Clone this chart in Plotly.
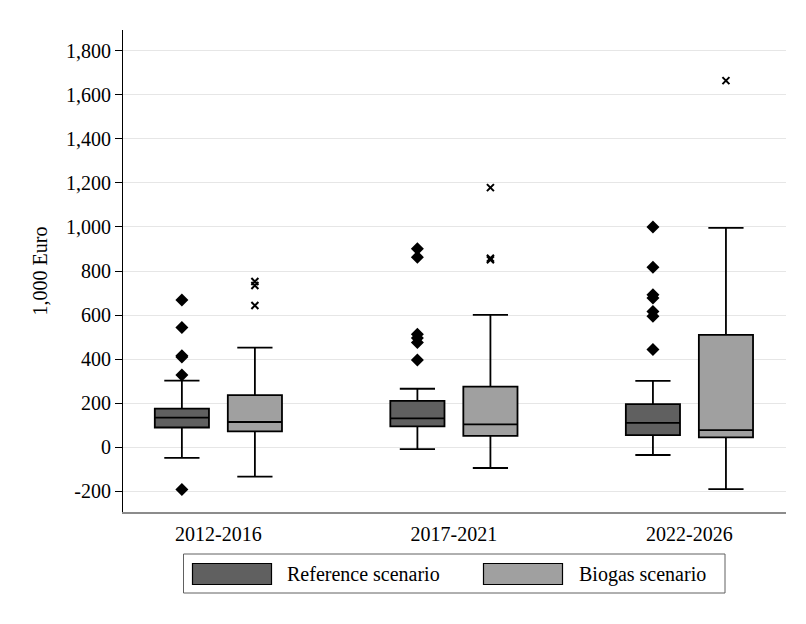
import plotly.graph_objects as go

# ---------------- data ----------------
periods = ["2012-2016", "2017-2021", "2022-2026"]

ref_q1 = [89, 94, 54]
ref_median = [134, 130, 110]
ref_q3 = [175, 210, 195]
ref_lower = [-49, -9, -36]
ref_upper = [302, 265, 301]
ref_outliers = [
    [668, 543, 415, 409, 328, -193],
    [901, 863, 513, 496, 475, 396],
    [1000, 817, 692, 677, 616, 594, 443],
]

bio_q1 = [71, 51, 44]
bio_median = [114, 103, 77]
bio_q3 = [236, 275, 510]
bio_lower = [-134, -95, -191]
bio_upper = [452, 601, 996]
bio_outliers = [
    [752, 734, 643],
    [1179, 858, 851],
    [1665],
]

ytick_vals = [-200, 0, 200, 400, 600, 800, 1000, 1200, 1400, 1600, 1800]
ytick_text = ["-200", "0", "200", "400", "600", "800", "1,000", "1,200",
              "1,400", "1,600", "1,800"]

series_names = ["Reference scenario", "Biogas scenario"]

# ---------------- styling ----------------
FONT = '"Liberation Serif", "Times New Roman", serif'
REF_COLOR = "#606060"
BIO_COLOR = "#a0a0a0"
OFFSET = 0.155
BOXW = 0.23

W, H = 806, 624
PAGE = 8  # browser default body margin
# desired plot area in page pixels
PL, PR, PT, PB = 123, 786, 30, 512
L, T = PL - PAGE, PT - PAGE
R, B = W - (PR - PAGE), H - (PB - PAGE)
PW, PH = PR - PL, PB - PT


def px_x(px):
    return (px - PL) / PW


def px_y(py):
    return (PB - py) / PH


centers = list(range(1, len(periods) + 1))
ref_pos = [c - OFFSET for c in centers]
bio_pos = [c + OFFSET for c in centers]

fig = go.Figure()

fig.add_trace(go.Box(
    x=ref_pos, q1=ref_q1, median=ref_median, q3=ref_q3,
    lowerfence=ref_lower, upperfence=ref_upper,
    width=BOXW, whiskerwidth=0.65, fillcolor=REF_COLOR,
    line=dict(color="black", width=1.8), boxpoints=False,
    name=series_names[0], showlegend=False, hoverinfo="skip",
))
fig.add_trace(go.Box(
    x=bio_pos, q1=bio_q1, median=bio_median, q3=bio_q3,
    lowerfence=bio_lower, upperfence=bio_upper,
    width=BOXW, whiskerwidth=0.65, fillcolor=BIO_COLOR,
    line=dict(color="black", width=1.8), boxpoints=False,
    name=series_names[1], showlegend=False, hoverinfo="skip",
))

rx, ry = [], []
for p, outs in zip(ref_pos, ref_outliers):
    rx += [p] * len(outs)
    ry += outs
fig.add_trace(go.Scatter(
    x=rx, y=ry, mode="markers", showlegend=False,
    marker=dict(symbol="diamond", size=10, color="black"),
))

bx, by = [], []
for p, outs in zip(bio_pos, bio_outliers):
    bx += [p] * len(outs)
    by += outs
fig.add_trace(go.Scatter(
    x=bx, y=by, mode="markers", showlegend=False,
    marker=dict(symbol="x-thin", size=7, color="black",
                line=dict(color="black", width=2)),
))

shapes = []
annotations = []

# top light rule (graph region edge)
shapes.append(dict(type="line", xref="paper", yref="paper",
                   x0=px_x(5), x1=px_x(806), y0=px_y(7), y1=px_y(7),
                   line=dict(color="#ececec", width=1.5)))

# custom legend
shapes.append(dict(type="rect", xref="paper", yref="paper",
                   x0=px_x(183.5), x1=px_x(725), y0=px_y(593), y1=px_y(554),
                   line=dict(color="#606060", width=1), fillcolor="white"))
legend_items = [
    (192.5, 271.5, 285, REF_COLOR, series_names[0]),
    (483.5, 562.5, 576.5, BIO_COLOR, series_names[1]),
]
for x0, x1, tx, col, name in legend_items:
    shapes.append(dict(type="rect", xref="paper", yref="paper",
                       x0=px_x(x0), x1=px_x(x1), y0=px_y(584.5), y1=px_y(563.5),
                       line=dict(color="black", width=1.2), fillcolor=col))
    annotations.append(dict(xref="paper", yref="paper", x=px_x(tx), y=px_y(574),
                            text=name, showarrow=False, xanchor="left",
                            yanchor="middle",
                            font=dict(family=FONT, size=20, color="black")))

fig.update_layout(
    width=W, height=H,
    margin=dict(l=L, r=R, t=T, b=B, pad=0),
    paper_bgcolor="white", plot_bgcolor="white",
    font=dict(family=FONT, size=20, color="black"),
    showlegend=False,
    shapes=shapes, annotations=annotations,
    xaxis=dict(
        range=[0.595, 3.41], tickmode="array", tickvals=centers,
        ticktext=periods, showgrid=False, zeroline=False,
        showline=True, linecolor="#8c8c8c", linewidth=1.5,
        ticks="outside", ticklen=3, tickcolor="rgba(0,0,0,0)",
        tickfont=dict(family=FONT, size=20, color="black"),
    ),
    yaxis=dict(
        range=[-295, 1895], tickmode="array", tickvals=ytick_vals,
        ticktext=ytick_text, showgrid=True, gridcolor="#e6e6e6",
        gridwidth=1.2, zeroline=False, showline=True, linecolor="black",
        linewidth=1.2, ticks="outside", ticklen=7, tickcolor="black",
        tickfont=dict(family=FONT, size=20, color="black"),
        title=dict(text="1,000 Euro", font=dict(family=FONT, size=20),
                   standoff=12),
    ),
)

fig.write_html("out.html")
